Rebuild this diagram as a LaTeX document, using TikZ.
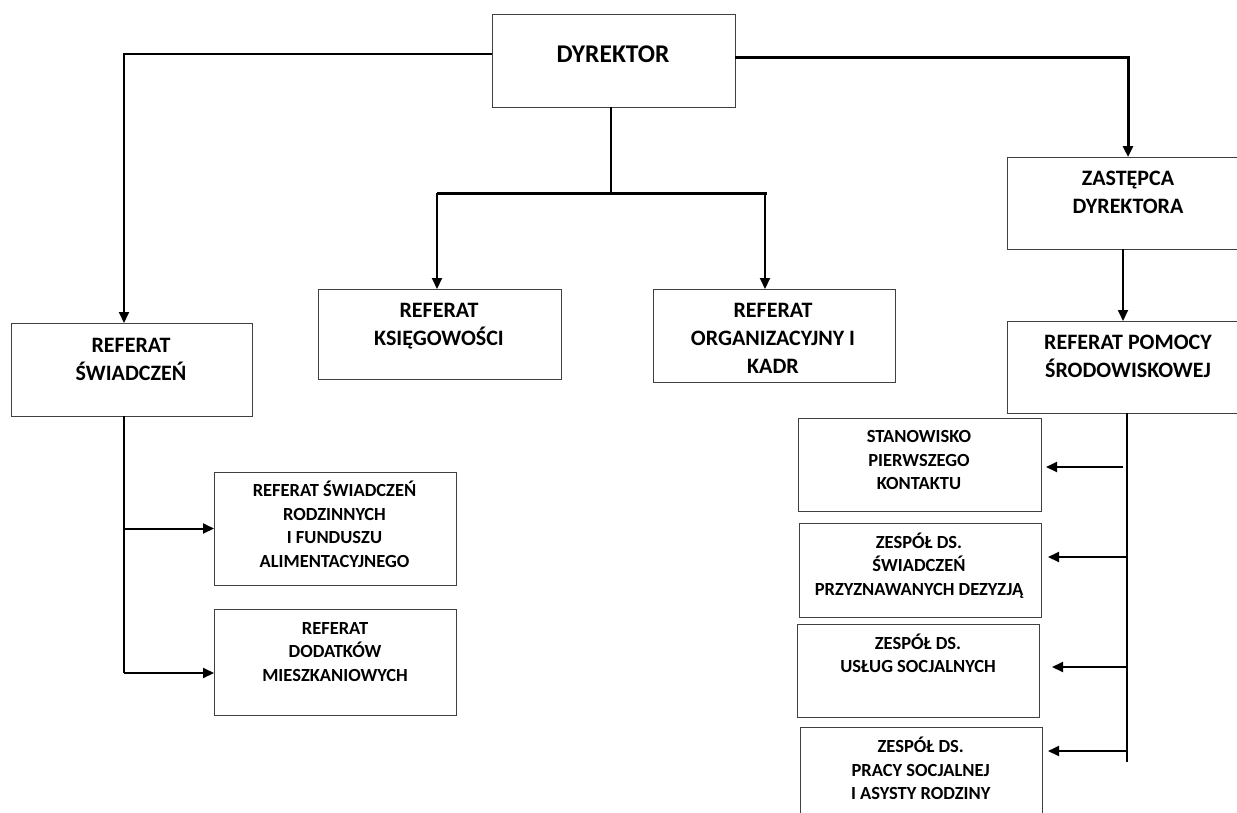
\documentclass[tikz,border=0pt]{standalone}
\usepackage{fontspec}
\setmainfont{Carlito}
\usetikzlibrary{arrows.meta,calc}
\newcommand\fbig{\fontsize{25.5}{30}\selectfont\bfseries}
\newcommand\fmed{\fontsize{22}{28}\selectfont\bfseries}
\newcommand\fsml{\fontsize{18.5}{23.5}\selectfont\bfseries}
\newcommand\fst{\rule{0pt}{30pt}}
\begin{document}
\begin{tikzpicture}[x=1pt,y=-1pt,
  box/.style={draw=black!75, line width=1pt, inner sep=0pt, outer sep=0pt,
    minimum width=242pt, minimum height=93pt},
  tbig/.style={anchor=north, inner sep=0pt, align=center, font=\fbig},
  tmed/.style={anchor=north, inner sep=0pt, align=center, font=\fmed},
  tsml/.style={anchor=north, inner sep=0pt, align=center, font=\fsml},
  conn/.style={draw=black, line width=2pt},
  busline/.style={draw=black, line width=3pt},
  arr/.style={conn, -{Triangle[length=11pt,width=10pt]}}]
\fill[white] (0,0) rectangle (1237,812);
\useasboundingbox (0,0) rectangle (1237,812);

% boxes
\node[box, minimum width=243pt] (dir) at (613.5,60.5) {};
\node[box, minimum width=241pt] (rs) at (131.5,369.5) {};
\node[box, minimum width=243pt, minimum height=90pt] (rk) at (439.5,334) {};
\node[box] (rok) at (774,335.5) {};
\node[box, minimum height=92pt] (zd) at (1128,203) {};
\node[box, minimum height=92pt] (rps) at (1128,367) {};
\node[box, minimum height=113pt] (rsr) at (335,528.5) {};
\node[box, minimum height=106pt] (rdm) at (335,662) {};
\node[box, minimum width=243pt] (spk) at (919.5,464.5) {};
\node[box, minimum height=94pt] (zsp) at (920,570) {};
\node[box] (zus) at (918,670.5) {};
\node[box] (zpr) at (921,773.5) {};

% texts
\node[tbig] (dir-t) at (613,32.7) {\fst DYREKTOR};
\node[tmed] (rs-t) at (131,322) {\fst REFERAT\\ŚWIADCZEŃ};
\node[tmed] (rk-t) at (439,287) {\fst REFERAT\\KSIĘGOWOŚCI};
\node[tmed] (rok-t) at (773,287) {\fst REFERAT\\ORGANIZACYJNY I\\KADR};
\node[tmed] (zd-t) at (1128,155) {\fst ZASTĘPCA\\DYREKTORA};
\node[tmed] (rps-t) at (1128,319) {\fst REFERAT POMOCY\\ŚRODOWISKOWEJ};
\node[tsml] (rsr-t) at (334.5,466.7) {\fst REFERAT ŚWIADCZEŃ\\RODZINNYCH\\I FUNDUSZU\\ALIMENTACYJNEGO};
\node[tsml] (rdm-t) at (335,604) {\fst REFERAT\\DODATKÓW\\MIESZKANIOWYCH};
\node[tsml] (spk-t) at (919,412.7) {\fst STANOWISKO\\PIERWSZEGO\\KONTAKTU};
\node[tsml] (zsp-t) at (919,518) {\fst ZESPÓŁ DS.\\ŚWIADCZEŃ\\PRZYZNAWANYCH DEZYZJĄ};
\node[tsml] (zus-t) at (918,619) {\fst ZESPÓŁ DS.\\USŁUG SOCJALNYCH};
\node[tsml] (zpr-t) at (920.7,722.7) {\fst ZESPÓŁ DS.\\PRACY SOCJALNEJ\\I ASYSTY RODZINY};

% connectors from DYREKTOR
\draw[arr] ($(dir.west)+(0,-6.5)$) -| ($(rs.north)+(-7.5,0)$);
\draw[arr, line width=3pt] ($(dir.east)+(0,-3.5)$) -| (zd.north);
\draw[conn, line width=1.5pt] ($(dir.south)+(-2.5,0)$) -- ++(0,86) coordinate (bus);
\draw[busline] ($(rk.north)+(-2.5,-96)$) -- ($(rok.north)+(-7,-96)$);
\draw[arr] ($(rk.north)+(-2.5,-96)$) -- ($(rk.north)+(-2.5,0)$);
\draw[arr] ($(rok.north)+(-9,-96)$) -- ($(rok.north)+(-9,0)$);

% ZASTEPCA -> REFERAT POMOCY
\draw[arr, line width=1.7pt] ($(zd.south)+(-5,0)$) -- ($(rps.north)+(-5,0)$);

% REFERAT SWIADCZEN branch
\draw[conn] ($(rs.south)+(-7.5,0)$) -- ($(rdm.west)+(-90,11)$);
\draw[arr] ($(rsr.west)+(-90,0)$) -- (rsr.west);
\draw[arr] ($(rdm.west)+(-90,11)$) -- ($(rdm.west)+(0,11)$);

% REFERAT POMOCY branch
\draw[conn] ($(rps.south)+(-1.5,0)$) -- ++(0,349) coordinate (rv);
\draw[arr] ($(spk.east)+(82,2.5)$) -- ($(spk.east)+(5,2.5)$);
\draw[arr] ($(zsp.east)+(85.5,-13)$) -- ($(zsp.east)+(7,-13)$);
\draw[arr] ($(zus.east)+(87.5,-3.5)$) -- ($(zus.east)+(13,-3.5)$);
\draw[arr] ($(zpr.east)+(84.5,-22.5)$) -- ($(zpr.east)+(6,-22.5)$);
\end{tikzpicture}
\end{document}
